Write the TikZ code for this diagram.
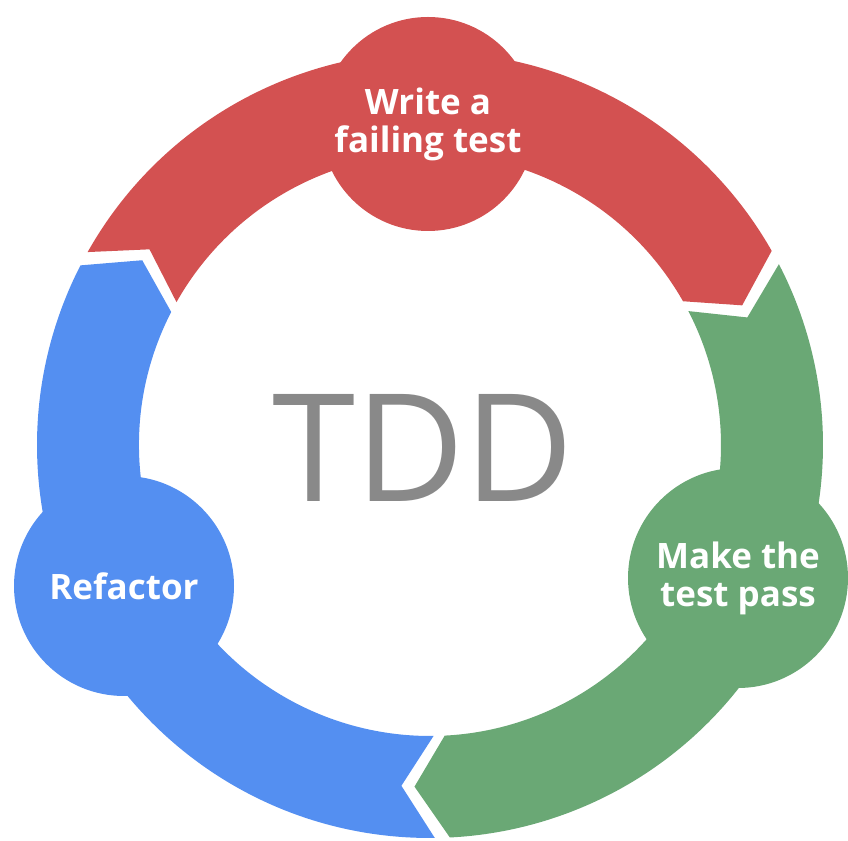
\documentclass[tikz,border=0pt]{standalone}
\usepackage{fontspec}
\setmainfont{Open Sans}
\definecolor{tddred}{HTML}{D35151}
\definecolor{tddgreen}{HTML}{6AA875}
\definecolor{tddblue}{HTML}{548FF1}
\definecolor{tddgray}{HTML}{898989}
\tikzset{
  bubble/.style={circle, inner sep=0pt, minimum size=220pt, text=white,
    font=\bfseries\fontsize{35}{38}\selectfont, align=center},
  title/.style={text=tddgray, font=\fontsize{150}{150}\selectfont, inner sep=0pt, anchor=base}
}
\newcommand\ringseg[3]{%
  \fill[#1] (#2:393pt) arc[start angle=#2, end angle=#3, radius=393pt]
    -- ({#3-5.5}:342pt) -- (#3:291pt)
    arc[start angle=#3, end angle=#2, radius=291pt]
    -- ({#2-5.5}:342pt) -- cycle;}
\begin{document}
\begin{tikzpicture}[x=1pt,y=1pt]
\useasboundingbox (0,0) rectangle (848,840);
\begin{scope}[shift={(430,395)}]
  \ringseg{tddred}{150.6}{29.6}
  \ringseg{tddgreen}{27.4}{-87.1}
  \ringseg{tddblue}{270.7}{152.8}
\end{scope}
\node[bubble, fill=tddred, minimum size=214pt] (write) at (428,716) {Write a\\failing test};
\node[bubble, fill=tddgreen] (pass) at (738,262) {Make the\\test pass};
\node[bubble, fill=tddblue] (refactor) at (124,254) {Refactor};
\node[title] (tdd) at (423,338) {TDD};
\end{tikzpicture}
\end{document}
